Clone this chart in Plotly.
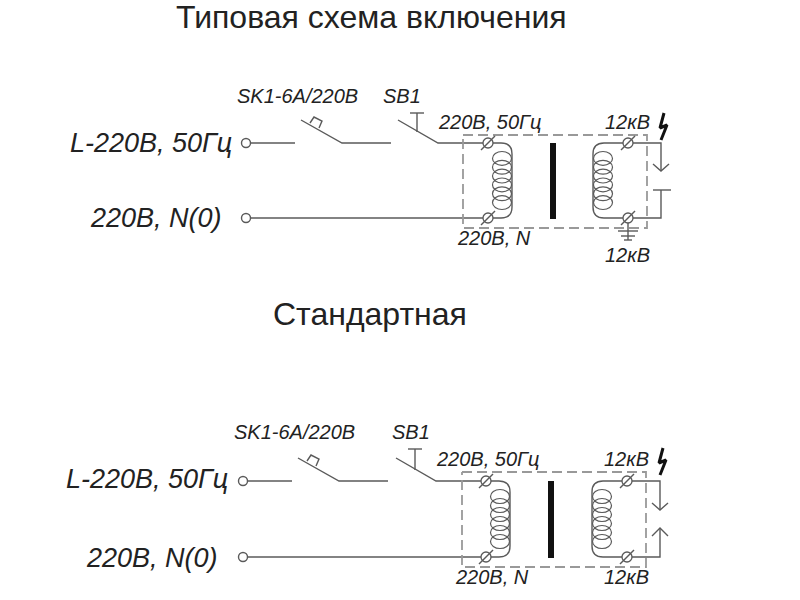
import plotly.graph_objects as go

# one entry per scheme: top one, bottom one
titles = ["Типовая схема включения", "Стандартная"]
title_x = [371, 370]
title_y = [17, 314]

line_labels = ["L-220В, 50Гц", "220В, N(0)"]
label_in_x = [[234, 224], [230, 220]]
label_in_y = [[143, 218], [479, 558]]

small_labels = ["SK1-6A/220B", "SB1", "220В, 50Гц", "12кВ", "220В, N", "12кВ"]
small_x = [[297, 402, 489, 627, 494, 627], [294, 411, 487, 626, 492, 626]]
small_y = [[96, 96, 122, 122, 238, 255], [432, 432, 459, 459, 577, 577]]

wire_hi = [143, 481]
wire_lo = [218, 557]
shift_in = [0, -3]
shift_sb = [0, -2]
push_top = [113, 449]
box_x = [[463, 647], [462, 646]]
box_y = [[135, 228], [472, 567]]
term_left = [488, 486]
term_right = [628, 627]
coil_left = [502, 500]
coil_right = [603, 602]
core_x = [553, 551]
out_x = [661, 660]
arrow_down = [171, 510]
gap_hi_y = [190, 528]
bolt_top = [113, 448]
turns = 6

GRAY = "#5a5a5a"
DASH = "#999999"
TEXT = "#222222"

fig = go.Figure()


def add_wire(xs, ys, color=GRAY, width=1.4, dash=None):
    fig.add_trace(go.Scatter(x=xs, y=ys, mode="lines", hoverinfo="skip",
                             line=dict(color=color, width=width, dash=dash)))


def add_terminal(x, y):
    fig.add_shape(type="circle", x0=x - 5, x1=x + 5, y0=y - 5, y1=y + 5,
                  line=dict(color=GRAY, width=1.3), fillcolor="white", layer="above")
    fig.add_shape(type="line", x0=x - 7, x1=x + 7, y0=y + 7, y1=y - 7,
                  line=dict(color=GRAY, width=1.4), layer="above")


def add_winding(term_x, bend_x, coil_x, hi, lo, side):
    r = 11 * side
    fig.add_shape(type="path", line=dict(color=GRAY, width=1.4),
                  path=f"M {term_x} {hi} L {bend_x - r} {hi} Q {bend_x} {hi} {bend_x} {hi + 11} "
                       f"L {bend_x} {lo - 11} Q {bend_x} {lo} {bend_x - r} {lo} L {term_x} {lo}")
    top = hi + 11
    step = (lo - hi - 22) / turns
    for k in range(turns):
        fig.add_shape(type="circle", x0=coil_x - 9.5, x1=coil_x + 9.5,
                      y0=top + k * step - 2.5, y1=top + (k + 1) * step + 2.5,
                      line=dict(color=GRAY, width=1.2))


for i in range(2):
    d = shift_in[i]
    s = shift_sb[i]
    hi, lo = wire_hi[i], wire_lo[i]

    # incoming lines with the two switches
    for y in (hi, lo):
        fig.add_shape(type="circle", x0=241.5 + d, x1=250.5 + d, y0=y - 4.5, y1=y + 4.5,
                      line=dict(color=GRAY, width=1.4))
    add_wire([251 + d, 295 + d], [hi, hi])
    add_wire([301 + d, 342 + d, 391 + d], [hi - 23, hi, hi])
    add_wire([310 + d, 314 + d, 322 + d, 319 + d], [hi - 20, hi - 26, hi - 22, hi - 15])
    add_wire([398 + s, 438 + s, term_left[i] - 4], [hi - 23, hi, hi])
    add_wire([410 + s, 424 + s, None, 417 + s, 417 + s],
             [push_top[i], push_top[i], None, push_top[i], hi - 11])
    add_wire([251 + d, term_left[i] - 4], [lo, lo])

    # transformer box, windings and core
    add_wire([box_x[i][0], box_x[i][1], box_x[i][1], box_x[i][0], box_x[i][0]],
             [box_y[i][0], box_y[i][0], box_y[i][1], box_y[i][1], box_y[i][0]],
             color=DASH, width=1.8, dash="10px,5px")
    add_winding(term_left[i], term_left[i] + 24, coil_left[i], hi, lo, 1)
    add_winding(term_right[i], term_right[i] - 35, coil_right[i], hi, lo, -1)
    add_wire([core_x[i], core_x[i]], [hi, lo + 1], color="#111111", width=6)
    for x in (term_left[i], term_right[i]):
        add_terminal(x, hi)
        add_terminal(x, lo)

    # secondary side and spark gap
    o = out_x[i]
    add_wire([term_right[i] + 4, o, o], [hi, hi, arrow_down[i]])
    add_wire([o - 8, o, o + 8], [arrow_down[i] - 7, arrow_down[i], arrow_down[i] - 7])
    add_wire([term_right[i] + 4, o, o], [lo, lo, gap_hi_y[i]])
    if i == 0:
        add_wire([o - 8, o + 10], [gap_hi_y[i], gap_hi_y[i]])
        # earth symbol only on the top scheme
        t = term_right[i]
        add_wire([t, t], [lo + 4, lo + 22])
        add_wire([t - 10, t + 10, None, t - 7, t + 7, None, t - 4, t + 4],
                 [lo + 13, lo + 13, None, lo + 18, lo + 18, None, lo + 22, lo + 22])
    else:
        add_wire([o - 8, o, o + 8], [gap_hi_y[i] + 8, gap_hi_y[i], gap_hi_y[i] + 8])

    # lightning mark
    b = bolt_top[i]
    add_wire([o + 3, o - 1, o + 6, o], [b, b + 15, b + 12, b + 27], color="#111111", width=3)

    # labels
    fig.add_annotation(x=title_x[i], y=title_y[i], text=titles[i], showarrow=False,
                       font=dict(family="Liberation Sans", size=32, color=TEXT))
    for label, x, y in zip(line_labels, label_in_x[i], label_in_y[i]):
        fig.add_annotation(x=x, y=y, text=f"<i>{label}</i>", showarrow=False, xanchor="right",
                           font=dict(family="Liberation Sans", size=27, color=TEXT))
    for label, x, y in zip(small_labels, small_x[i], small_y[i]):
        fig.add_annotation(x=x, y=y, text=f"<i>{label}</i>", showarrow=False,
                           font=dict(family="Liberation Sans", size=20, color=TEXT))

fig.update_layout(
    width=800, height=600, showlegend=False,
    margin=dict(l=0, r=0, t=0, b=0),
    paper_bgcolor="white", plot_bgcolor="white",
)
fig.update_xaxes(visible=False, range=[0, 800])
fig.update_yaxes(visible=False, range=[600, 0])

# page default margin would push the figure 8px off
fig.write_html("out.html", config={"displayModeBar": False},
               post_script="document.body.style.margin = '0';")
